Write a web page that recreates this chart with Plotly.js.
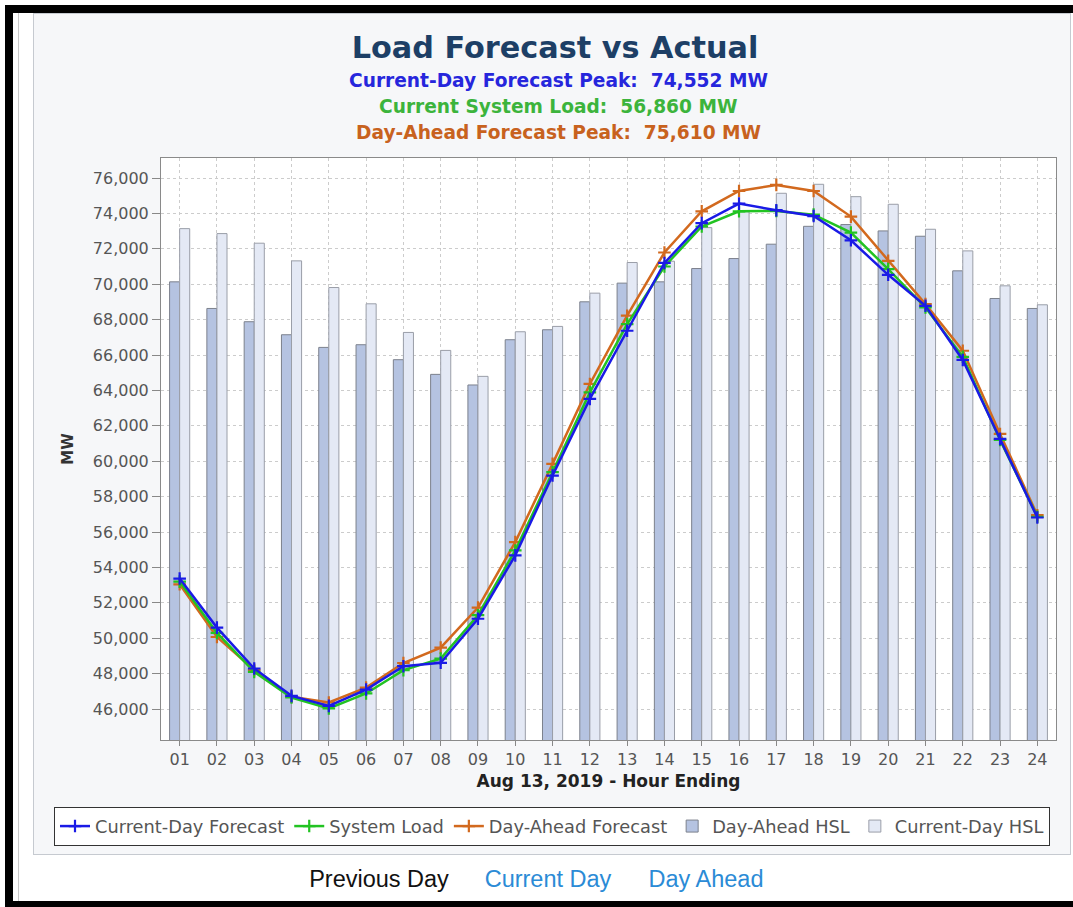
<!DOCTYPE html>
<html>
<head>
<meta charset="utf-8">
<script src="https://cdn.plot.ly/plotly-3.0.1.min.js"></script>
<style>
  html, body { margin:0; padding:0; background:#ffffff; }
  #wrap { position:relative; width:1073px; height:907px; overflow:hidden; background:#fff; }
  .blk { position:absolute; background:#000; }
  #vline { position:absolute; left:18px; top:13px; width:1px; height:888px; background:#c9c9c9; }
  #panel { position:absolute; left:33px; top:13px; width:1038px; height:842px; background:#f6f7f9; border:1px solid #c6cad0; box-sizing:border-box; }
  #chart { position:absolute; left:0; top:0; width:1073px; height:907px; }
  .lnk { position:absolute; top:866px; font-family:"Liberation Sans", Arial, sans-serif; font-size:23.5px; white-space:nowrap; transform:translateX(-50%); }
</style>
</head>
<body>
<div id="wrap">
  <div class="blk" style="left:5px;top:5px;width:1068px;height:8px;"></div>
  <div class="blk" style="left:5px;top:5px;width:8px;height:902px;"></div>
  <div class="blk" style="left:5px;top:901px;width:1068px;height:6px;"></div>
  <div id="vline"></div>
  <div id="panel"></div>
  <div id="chart"></div>
  <div class="lnk" style="left:379px;color:#111;">Previous Day</div>
  <div class="lnk" style="left:548px;color:#2b8bd6;">Current Day</div>
  <div class="lnk" style="left:706px;color:#2b8bd6;">Day Ahead</div>
</div>
<script>
// ---- data ----
var hours = ["01","02","03","04","05","06","07","08","09","10","11","12",
             "13","14","15","16","17","18","19","20","21","22","23","24"];
var currentDayForecast = [53370,50600,48290,46745,46180,47100,48420,48610,51100,54680,59190,63520,
                          67370,71200,73450,74552,74180,73850,72480,70530,68780,65720,61260,56820];
var systemLoad = [53200,50300,48100,46650,46030,46880,48200,48850,51300,54960,59380,63890,
                  67750,71000,73260,74120,74140,73930,72915,70850,68685,65900,61200,56860];
var dayAheadForecast = [53045,50070,48200,46700,46370,47210,48600,49470,51730,55430,59850,64365,
                        68220,71790,74120,75267,75610,75267,73820,71320,68875,66240,61540,56950];
var dayAheadHSL = [70134,68630,67880,67145,66430,66581,65735,64906,64307,66863,67427,69006,
                   70060,70134,70885,71449,72260,73270,73370,73011,72710,70755,69193,68630];
var currentDayHSL = [73140,72860,72317,71319,69813,68893,67275,66260,64794,67314,67615,69495,
                     71225,71300,73197,74100,75137,75645,74946,74516,73105,71883,69909,68837];
var yTicks = [46000,48000,50000,52000,54000,56000,58000,60000,62000,64000,66000,68000,70000,72000,74000,76000];

var titleText = "Load Forecast vs Actual";
var subtitles = [
  {text:"Current-Day Forecast Peak:  74,552 MW", color:"#2626dc"},
  {text:"Current System Load:  56,860 MW", color:"#3cb43c"},
  {text:"Day-Ahead Forecast Peak:  75,610 MW", color:"#c8621e"}
];
var xTitle = "Aug 13, 2019 - Hour Ending";
var yTitle = "MW";

// ---- traces ----
var FONT = "DejaVu Sans, sans-serif";
function lineTrace(name, y, color, rank){
  return {type:"scatter", mode:"lines+markers", name:name, x:hours, y:y,
    line:{color:color, width:2.5},
    marker:{symbol:"cross-thin", size:9, color:color, line:{color:color, width:2.2}},
    legendrank:rank};
}
var traces = [
  {type:"bar", name:"Day-Ahead HSL", x:hours, y:dayAheadHSL,
   marker:{color:"#b5c3e1", line:{color:"#7c818c", width:1}}, legendrank:4},
  {type:"bar", name:"Current-Day HSL", x:hours, y:currentDayHSL,
   marker:{color:"#e4e9f5", line:{color:"#9a9ea8", width:1}}, legendrank:5},
  lineTrace("Day-Ahead Forecast", dayAheadForecast, "#d2691e", 3),
  lineTrace("System Load", systemLoad, "#22c322", 2),
  lineTrace("Current-Day Forecast", currentDayForecast, "#1a1ae6", 1)
];

var py = function(px){ return (740 - px) / 582; };
var pxX = function(px){ return (px - 161) / 895; };
var annotations = subtitles.map(function(s, i){
  return {xref:"paper", yref:"paper", x:pxX(558), y:py([80,106,133][i]),
    xanchor:"center", yanchor:"middle", showarrow:false, text:s.text,
    font:{family:FONT, size:18.6, color:s.color, weight:"bold"}};
});

var layout = {
  width:1073, height:907,
  margin:{l:161, r:17, t:158, b:167},
  paper_bgcolor:"rgba(0,0,0,0)",
  plot_bgcolor:"#ffffff",
  font:{family:FONT, size:16, color:"#555"},
  title:{text:titleText, xref:"container", yref:"container", x:555/1073, y:1-47/907,
         xanchor:"center", yanchor:"middle",
         font:{family:FONT, size:30.3, color:"#1d3f66", weight:"bold"}},
  barmode:"group", bargap:0.46, bargroupgap:0,
  xaxis:{type:"category", range:[-0.5, 23.5],
    showline:true, mirror:true, linecolor:"#8a8a8a", linewidth:1,
    showgrid:true, gridcolor:"#cccccc", griddash:"3px,3px", gridwidth:1,
    ticks:"outside", ticklen:5, tickcolor:"#888",
    tickfont:{family:FONT, size:16, color:"#555"},
    title:{text:xTitle, standoff:6, font:{family:FONT, size:17, color:"#222", weight:"bold"}},
    zeroline:false, fixedrange:true},
  yaxis:{range:[44250, 77130], tickvals:yTicks, tickformat:",d",
    showline:true, mirror:true, linecolor:"#8a8a8a", linewidth:1,
    showgrid:true, gridcolor:"#cccccc", griddash:"3px,3px", gridwidth:1,
    ticks:"outside", ticklen:8, tickcolor:"#888",
    tickfont:{family:FONT, size:16, color:"#555"},
    title:{text:yTitle, standoff:15, font:{family:FONT, size:15, color:"#333", weight:"bold"}},
    zeroline:false, fixedrange:true},
  legend:{orientation:"h", xref:"paper", yref:"paper", x:pxX(54), y:py(807),
    xanchor:"left", yanchor:"top", bgcolor:"#ffffff", bordercolor:"#333", borderwidth:1,
    itemwidth:30, font:{family:FONT, size:17.8, color:"#555"}, traceorder:"normal"},
  annotations:annotations,
  showlegend:true
};

Plotly.newPlot("chart", traces, layout, {displayModeBar:false, staticPlot:true});
</script>
</body>
</html>
